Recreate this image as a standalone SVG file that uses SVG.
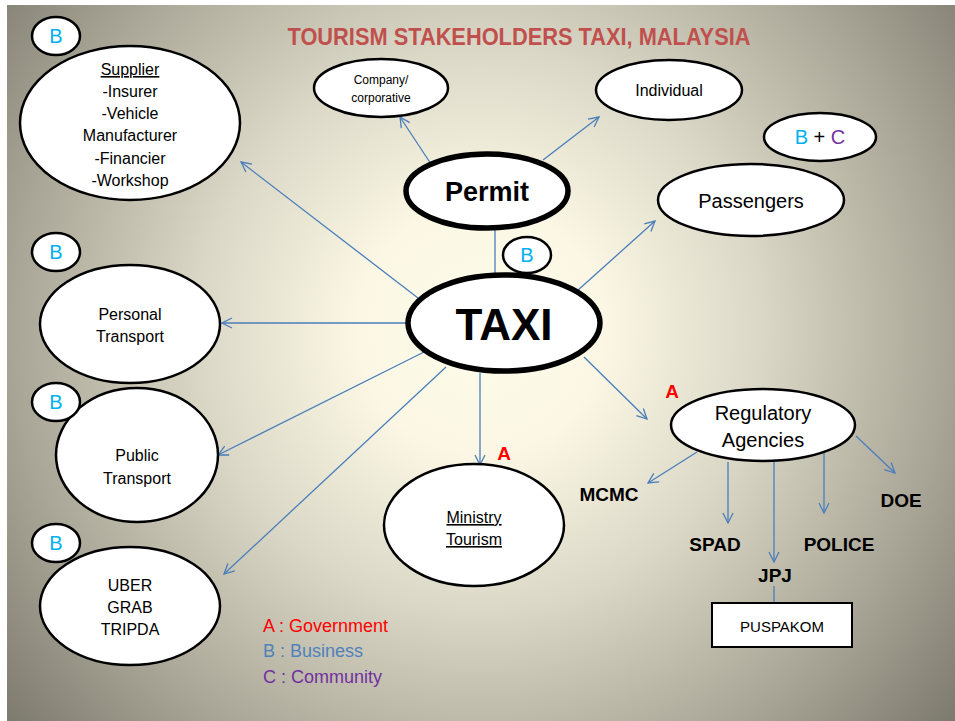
<svg xmlns="http://www.w3.org/2000/svg" width="955" height="721" viewBox="0 0 955 721">
<defs>
<radialGradient id="bg" gradientUnits="userSpaceOnUse" cx="480" cy="330" r="620">
<stop offset="0" stop-color="#fefbea"/>
<stop offset="0.2" stop-color="#fbf7e4"/>
<stop offset="0.45" stop-color="#dcd8c7"/>
<stop offset="0.75" stop-color="#a9a697"/>
<stop offset="1" stop-color="#7b796c"/>
</radialGradient>
<marker id="arr" viewBox="0 0 12 12" refX="11" refY="6" markerWidth="12" markerHeight="12" markerUnits="userSpaceOnUse" orient="auto">
<path d="M1,1 L11,6 L1,11" fill="none" stroke="#4a7ebb" stroke-width="1.3"/>
</marker>
<style>
.n{fill:#fff;stroke:#000;stroke-width:2.5}
.nb{fill:#fff;stroke:#000;stroke-width:5.5}
.c{stroke:#4a7ebb;stroke-width:1.3;fill:none}
.ca{stroke:#4a7ebb;stroke-width:1.3;fill:none;marker-end:url(#arr)}
text{font-family:"Liberation Sans",Arial,sans-serif;fill:#000;text-anchor:middle}
.t{font-size:16px}
.b{fill:#00b0f0;font-size:20px}
.lab{font-size:19px;font-weight:bold}
.u{text-decoration:underline}
</style>
</defs>
<rect x="0" y="0" width="955" height="721" fill="#fff"/>
<rect x="7" y="5" width="948" height="716" fill="url(#bg)"/>
<text x="519" y="45" style="font-size:23px;font-weight:bold;fill:#c0504d" textLength="463" lengthAdjust="spacingAndGlyphs">TOURISM STAKEHOLDERS TAXI, MALAYSIA</text>

<g id="connectors">
<line class="ca" x1="431" y1="164" x2="400" y2="117"/>
<line class="ca" x1="543" y1="160" x2="599" y2="117"/>
<line class="c" x1="495" y1="230" x2="495" y2="276"/>
<line class="ca" x1="418" y1="298" x2="241" y2="162"/>
<line class="ca" x1="407" y1="323" x2="222" y2="323"/>
<line class="ca" x1="424" y1="352" x2="218" y2="455"/>
<line class="ca" x1="446" y1="367" x2="224" y2="574"/>
<line class="ca" x1="480" y1="373" x2="480" y2="465"/>
<line class="ca" x1="584" y1="357" x2="647" y2="419"/>
<line class="ca" x1="577" y1="291" x2="655" y2="221"/>
<line class="ca" x1="697" y1="452" x2="648" y2="483"/>
<line class="ca" x1="728" y1="462" x2="728" y2="523"/>
<line class="ca" x1="774" y1="462" x2="774" y2="562"/>
<line class="ca" x1="824" y1="452" x2="824" y2="513"/>
<line class="ca" x1="856" y1="436" x2="895" y2="473"/>
<line class="c" x1="774" y1="586" x2="774" y2="603"/>
</g>

<g id="supplier">
<ellipse class="n" cx="130" cy="123" rx="110" ry="77"/>
<text class="t u" x="130" y="75">Supplier</text>
<text class="t" x="130" y="97">-Insurer</text>
<text class="t" x="130" y="119">-Vehicle</text>
<text class="t" x="130" y="141">Manufacturer</text>
<text class="t" x="130" y="164">-Financier</text>
<text class="t" x="130" y="186">-Workshop</text>
</g>
<g id="badge-supplier"><ellipse class="n" cx="56" cy="36" rx="24" ry="19"/><text class="b" x="56" y="43">B</text></g>

<g id="company">
<ellipse class="n" cx="381" cy="88" rx="67" ry="29"/>
<text x="381" y="84" style="font-size:12px">Company/</text>
<text x="381" y="102" style="font-size:12px">corporative</text>
</g>
<g id="individual">
<ellipse class="n" cx="669" cy="90" rx="73" ry="30"/>
<text x="669" y="96" style="font-size:16px">Individual</text>
</g>
<g id="badge-bc">
<ellipse class="n" cx="820" cy="137" rx="56" ry="24"/>
<text x="820" y="144" style="font-size:20px"><tspan fill="#00b0f0">B</tspan> + <tspan fill="#7030a0">C</tspan></text>
</g>
<g id="passengers">
<ellipse class="n" cx="751" cy="200" rx="93" ry="36"/>
<text x="751" y="208" style="font-size:20px">Passengers</text>
</g>
<g id="permit">
<ellipse class="nb" cx="487" cy="191" rx="81" ry="37"/>
<text x="487" y="201" style="font-size:27px;font-weight:bold">Permit</text>
</g>
<g id="badge-taxi"><ellipse class="n" cx="527" cy="255" rx="24" ry="18"/><text class="b" x="527" y="262">B</text></g>
<g id="taxi">
<ellipse class="nb" cx="504" cy="323" rx="96" ry="48"/>
<text x="504" y="340" style="font-size:44px;font-weight:bold">TAXI</text>
</g>

<g id="personal">
<ellipse class="n" cx="130" cy="324" rx="90" ry="59"/>
<text class="t" x="130" y="320">Personal</text>
<text class="t" x="130" y="342">Transport</text>
</g>
<g id="badge-personal"><ellipse class="n" cx="56" cy="252" rx="24" ry="19"/><text class="b" x="56" y="259">B</text></g>

<g id="public">
<ellipse class="n" cx="137" cy="455" rx="81" ry="67"/>
<text class="t" x="137" y="461">Public</text>
<text class="t" x="137" y="484">Transport</text>
</g>
<g id="badge-public"><ellipse class="n" cx="56" cy="402" rx="24" ry="19"/><text class="b" x="56" y="409">B</text></g>

<g id="uber">
<ellipse class="n" cx="130" cy="606" rx="90" ry="59"/>
<text class="t" x="130" y="591">UBER</text>
<text class="t" x="130" y="613">GRAB</text>
<text class="t" x="130" y="635">TRIPDA</text>
</g>
<g id="badge-uber"><ellipse class="n" cx="56" cy="543" rx="24" ry="19"/><text class="b" x="56" y="550">B</text></g>

<g id="ministry">
<ellipse class="n" cx="474" cy="525" rx="90" ry="61"/>
<text class="t u" x="474" y="523">Ministry</text>
<text class="t u" x="474" y="545">Tourism</text>
</g>
<text x="504" y="460" style="font-size:19px;font-weight:bold;fill:#ff0000">A</text>

<g id="regulatory">
<ellipse class="n" cx="763" cy="425" rx="92" ry="36"/>
<text x="763" y="420" style="font-size:20px">Regulatory</text>
<text x="763" y="447" style="font-size:20px">Agencies</text>
</g>
<text x="672" y="398" style="font-size:19px;font-weight:bold;fill:#ff0000">A</text>

<g id="mcmc"><text class="lab" x="609" y="501">MCMC</text></g>
<g id="spad"><text class="lab" x="715" y="551">SPAD</text></g>
<g id="police"><text class="lab" x="839" y="551">POLICE</text></g>
<g id="doe"><text class="lab" x="901" y="507">DOE</text></g>
<g id="jpj"><text class="lab" x="775" y="582">JPJ</text></g>
<g id="puspakom">
<rect x="712" y="603" width="140" height="44" fill="#fff" stroke="#000" stroke-width="2"/>
<text x="782" y="632" style="font-size:15px">PUSPAKOM</text>
</g>

<g id="legend" style="font-size:18px">
<text x="263" y="632" style="text-anchor:start;fill:#ff0000">A : Government</text>
<text x="263" y="657" style="text-anchor:start;fill:#4f81bd">B : Business</text>
<text x="263" y="683" style="text-anchor:start;fill:#7030a0">C : Community</text>
</g>
</svg>
